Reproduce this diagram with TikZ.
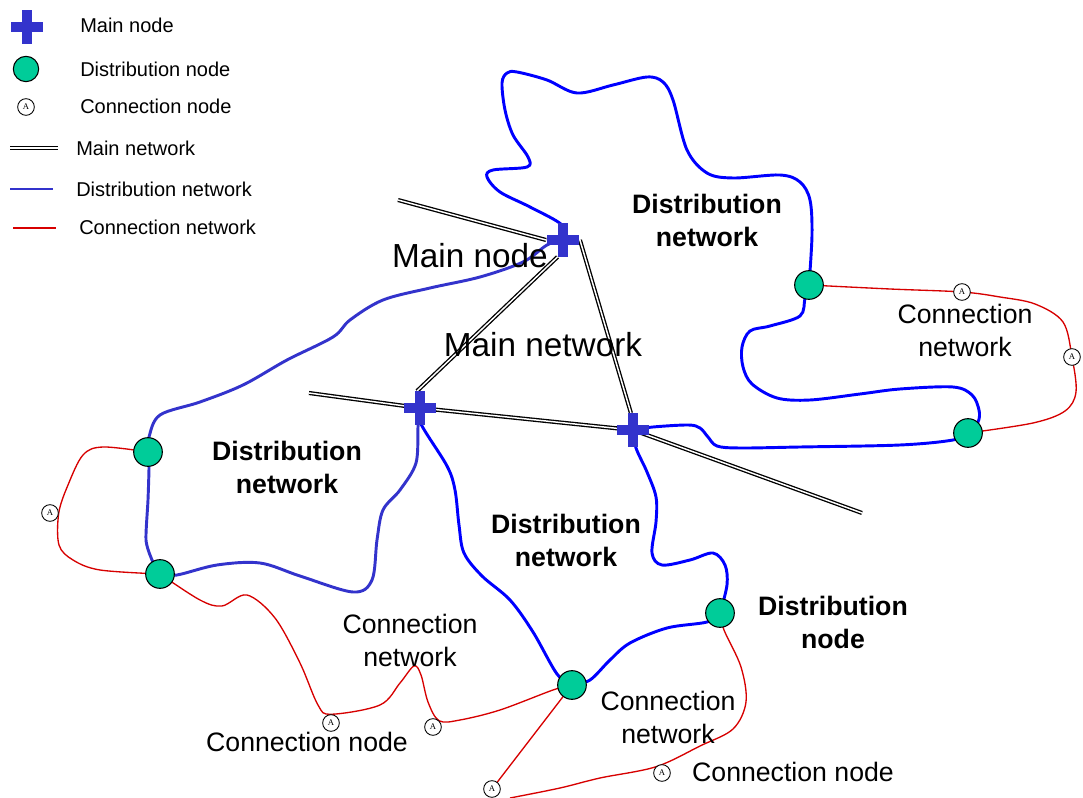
\documentclass[tikz,border=0pt]{standalone}
\usepackage{fontspec}
\setmainfont{Liberation Sans}
\newfontfamily\serifA{Liberation Serif}
\usetikzlibrary{backgrounds}
\definecolor{crosscol}{RGB}{51,51,204}
\definecolor{distblue}{RGB}{0,0,255}
\definecolor{distblueb}{RGB}{51,51,204}
\definecolor{nodegreen}{RGB}{0,204,153}
\definecolor{conred}{RGB}{215,0,0}
\tikzset{
  mainnode/.style={rectangle, inner sep=0pt, minimum size=25pt, path picture={
      \fill[crosscol] ([xshift=-11.75pt,yshift=-3.75pt]path picture bounding box.center) rectangle ([xshift=11.75pt,yshift=3.75pt]path picture bounding box.center);
      \fill[crosscol] ([xshift=-3.75pt,yshift=-12.4pt]path picture bounding box.center) rectangle ([xshift=3.75pt,yshift=12.4pt]path picture bounding box.center);}},
  distnode/.style={circle, draw=black, line width=0.8pt, fill=nodegreen, minimum size=21.5pt, inner sep=0pt},
  connode/.style={circle, draw=black, line width=0.65pt, fill=white, minimum size=12.5pt, inner sep=0pt, font=\serifA\fontsize{6.5}{6.5}\selectfont},
  mainnet/.style={draw=black, double=white, double distance=1.1pt, line width=1pt},
  distnet/.style={draw=distblue, line width=2.2pt, line join=round, line cap=round},
  distnetb/.style={draw=distblueb, line width=2.2pt, line join=round, line cap=round},
  connet/.style={draw=conred, line width=1pt},
  legtext/.style={anchor=west, inner sep=0pt, font=\fontsize{15}{18}\selectfont},
  biglabel/.style={font=\fontsize{25}{30}\selectfont, inner sep=0pt},
  netlabel/.style={align=center, inner sep=0pt, font=\fontsize{20}{24.75}\selectfont},
  boldlabel/.style={align=center, inner sep=0pt, font=\bfseries\fontsize{20}{24.75}\selectfont},
}
\begin{document}
\begin{tikzpicture}[x=0.75pt,y=-0.75pt]
\useasboundingbox (0,0) rectangle (1083,798);

% ---------- legend ----------
\node[mainnode] (lm) at (27,27) {};
\node[distnode, minimum size=19pt] (ld) at (26,69) {};
\node[connode] (lc) at (26,107) {A};
\coordinate (lma) at (10,148); \coordinate (lmb) at (58,148);
\coordinate (lda) at (10,189); \coordinate (ldb) at (53,189);
\coordinate (lca) at (13,228); \coordinate (lcb) at (56,228);
\draw[mainnet] (lma) -- (lmb);
\draw[distnetb, line cap=butt] (lda) -- (ldb);
\draw[connet] (lca) -- (lcb);
\node[legtext] (t1) at (80,25) {Main node};
\node[legtext] (t2) at (80,69) {Distribution node};
\node[legtext] (t3) at (80,106) {Connection node};
\node[legtext] (t4) at (76,148) {Main network};
\node[legtext] (t5) at (76,189) {Distribution network};
\node[legtext] (t6) at (79,227) {Connection network};

% ---------- nodes ----------
\node[mainnode] (m1) at (563,240) {};
\node[mainnode] (m2) at (420,408) {};
\node[mainnode] (m3) at (633,430) {};

\node[distnode] (d1) at (809,285) {};
\node[distnode] (d2) at (968,433) {};
\node[distnode] (d3) at (148,452) {};
\node[distnode] (d4) at (160,574) {};
\node[distnode] (d5) at (572,685) {};
\node[distnode] (d6) at (720,613) {};

\node[connode] (c1) at (962,292) {A};
\node[connode] (c2) at (1072,357) {A};
\node[connode] (c3) at (50,513) {A};
\node[connode] (c4) at (331,723) {A};
\node[connode] (c5) at (433,727) {A};
\node[connode] (c6) at (492,789) {A};
\node[connode] (c7) at (662,773) {A};

\coordinate (e1) at (398,200);
\coordinate (e2) at (309,393);
\coordinate (e3) at (862,513);
\coordinate (e4) at (510,798);

% ---------- connectors ----------
\begin{pgfonlayer}{background}
\fill[white] (0,0) rectangle (1083,798);
% distribution network
\draw[distnet] plot[smooth, tension=0.55] coordinates {(m1.center) (562,225) (530,207) (500,192) (487,177) (493,170) (527,167) (528,157) (513,135) (505,110) (502,83) (507,73) (517,72) (547,80) (577,93) (613,85) (647,77) (663,82) (673,100) (687,150) (707,173) (733,178) (780,175) (800,182) (810,200) (812,235) (d1.center)};
\draw[distnet] plot[smooth, tension=0.55] coordinates {(d1.center) (805,298) (800,316) (770,326) (750,331) (742,347) (743,367) (752,384) (777,398) (810,400) (860,394) (900,389) (953,387) (972,395) (979,410) (978,422) (d2.center)};
\draw[distnet] plot[smooth, tension=0.55] coordinates {(d2.center) (953,440) (900,445) (800,447) (740,448) (717,446) (708,437) (700,428) (688,425) (653,427) (m3.center)};
\draw[distnet] plot[smooth, tension=0.55] coordinates {(m3.center) (636,448) (647,472) (656,497) (656,522) (652,553) (662,565) (690,560) (713,553) (725,565) (727,585) (d6.center)};
\draw[distnet] plot[smooth, tension=0.55] coordinates {(m2.center) (421,424) (447,466) (455,490) (459,525) (464,553) (482,576) (510,600) (533,632) (557,674) (d5.center)};
\draw[distnet] plot[smooth, tension=0.55] coordinates {(d5.center) (590,680) (610,660) (630,643) (667,628) (707,622) (d6.center)};
\draw[distnetb] plot[smooth, tension=0.55] coordinates {(m1.center) (547,245) (523,262) (480,277) (430,288) (383,300) (350,320) (333,337) (287,360) (243,385) (200,402) (160,415) (149,437) (d3.center)};
\draw[distnetb] plot[smooth, tension=0.4] coordinates {(d3.center) (149,467) (148,500) (146,540) (152,560) (d4.center)};
\draw[distnetb] plot[smooth, tension=0.55] coordinates {(d4.center) (177,575) (217,565) (260,563) (300,576) (353,592) (372,580) (377,540) (383,510) (400,490) (416,463) (418,427) (m2.center)};

% connection network
\draw[connet] plot[smooth, tension=0.55] coordinates {(d1.center) (890,289) (c1.center) (1000,297) (1035,304) (1063,322) (c2.center) (1076,392) (1065,411) (1033,423) (d2.center)};
\draw[connet] plot[smooth, tension=0.55] coordinates {(d3.center) (103,447) (83,455) (68,485) (c3.east) (59,545) (73,560) (100,570) (d4.center)};
\draw[connet] plot[smooth, tension=0.55] coordinates {(d4.center) (200,600) (222,606) (247,595) (275,618) (300,663) (318,705) (c4.north) (380,705) (400,683) (414,666) (421,675) (428,702) (c5.north east) (460,720) (500,710) (553,690) (d5.center)};
\draw[connet] (d5.center) -- (c6.center);
\draw[connet] plot[smooth, tension=0.55] coordinates {(d6.center) (724,630) (741,667) (746,702) (733,729) (700,746) (c7.north west) (600,778) (560,788) (e4)};

% main network
\draw[mainnet] (e1) -- (m1.west);
\draw[mainnet] (m1.-108) -- (m2.100);
\draw[mainnet] (m1.east) -- (m3.97);
\draw[mainnet] (e2) -- (m2.center) -- (m3.center);
\draw[mainnet] (m3.center) -- (e3);
\end{pgfonlayer}

% ---------- labels ----------
\node[biglabel] (lb1) at (470,256) {Main node};
\node[biglabel] (lb2) at (543,345) {Main network};
\node[boldlabel] (lb3) at (707,220) {Distribution\\network};
\node[netlabel] (lb4) at (965,330) {Connection\\network};
\node[boldlabel] (lb5) at (287,467) {Distribution\\network};
\node[boldlabel] (lb6) at (566,540) {Distribution\\network};
\node[boldlabel] (lb7) at (833,622) {Distribution\\node};
\node[netlabel] (lb8) at (410,640) {Connection\\network};
\node[netlabel] (lb9) at (307,742) {Connection node};
\node[netlabel] (lb10) at (668,717) {Connection\\network};
\node[netlabel] (lb11) at (793,772) {Connection node};
\end{tikzpicture}
\end{document}
